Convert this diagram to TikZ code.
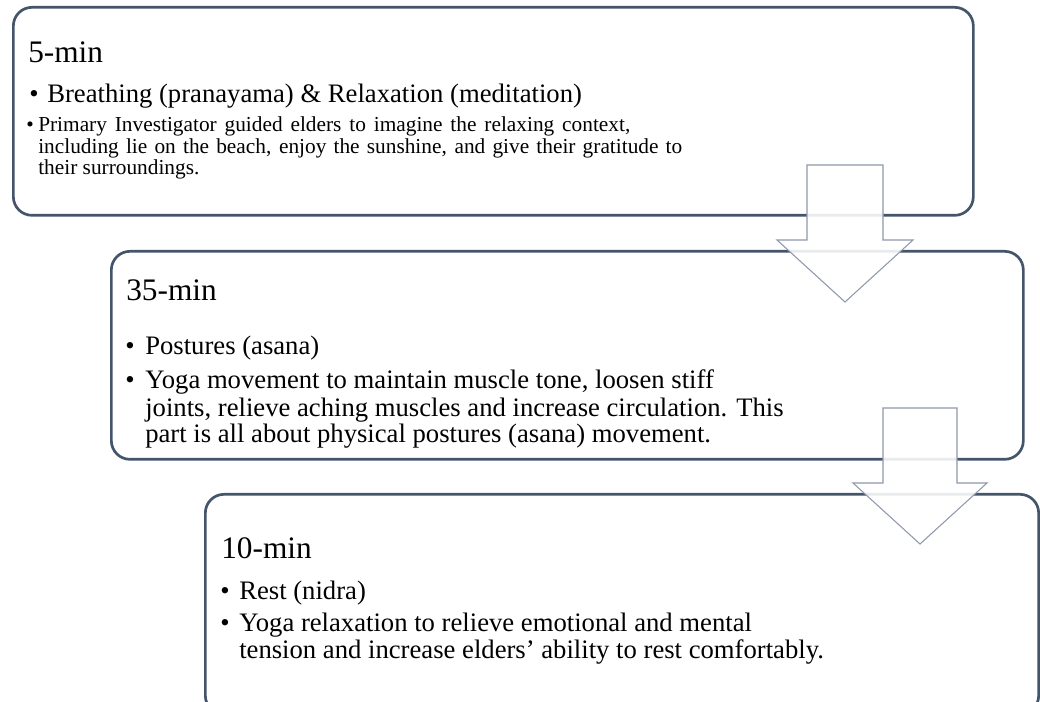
\documentclass[tikz,border=0pt]{standalone}
\usepackage{fontspec}
\setmainfont{Liberation Serif}
\usetikzlibrary{positioning}
\definecolor{panelline}{HTML}{44546A}
\definecolor{arrowline}{HTML}{8E99AB}
\tikzset{
  panel/.style={draw=panelline,line width=2pt,rounded corners=14pt,fill=white,anchor=north west,inner sep=0pt},
  downarrow/.style={draw=arrowline,line width=.8pt,fill=white,fill opacity=.88},
  heading/.style={anchor=base west,inner sep=0pt,font=\fontsize{23.5}{26}\selectfont},
  dot/.style={anchor=base west,inner sep=0pt},
  item/.style={anchor=base west,inner sep=0pt,align=left}
}
\begin{document}
\begin{tikzpicture}[x=0.75pt,y=-0.75pt]
\clip (0,0) rectangle (1040,702);
% the three boxes
\node[panel,minimum width=720pt,minimum height=156pt] (box1) at (12,6) {};
\node[panel,minimum width=684pt,minimum height=156pt] (box2) at (110,250) {};
\node[panel,minimum width=625pt,minimum height=165pt] (box3) at (204,493) {};
% box 1
\node[heading] (t1) at (28,63) {5-min};
\node[dot,font=\fontsize{20}{21}\selectfont] (d11) at (29,103) {\textbullet};
\node[item,font=\fontsize{20}{21}\selectfont] (i11) at (47,103) {Breathing (pranayama) \& Relaxation (meditation)};
\node[dot,font=\fontsize{16}{16.25}\selectfont] (d12) at (26,132) {\textbullet};
\node[item,font=\fontsize{16}{16.25}\selectfont] (i12) at (38,175)
  {\makebox[444pt][s]{Primary Investigator guided elders to imagine the relaxing context,}\\
   \makebox[483pt][s]{including lie on the beach, enjoy the sunshine, and give their gratitude to}\\
   their surroundings.};
% box 2
\node[heading] (t2) at (126,301) {35-min};
\node[dot,font=\fontsize{20}{20.25}\selectfont] (d21) at (125,355) {\textbullet};
\node[item,font=\fontsize{20}{20.25}\selectfont] (i21) at (145,355) {Postures (asana)};
\node[dot,font=\fontsize{20}{20.25}\selectfont] (d22) at (125,389) {\textbullet};
\node[item,font=\fontsize{20}{20.25}\selectfont] (i22) at (145,443)
  {Yoga movement to maintain muscle tone, loosen stiff\\
   joints, relieve aching muscles and increase circulation. This\\
   part is all about physical postures (asana) movement.};
% box 3
\node[heading] (t3) at (221,558) {10-min};
\node[dot,font=\fontsize{20}{20.25}\selectfont] (d31) at (220,599) {\textbullet};
\node[item,font=\fontsize{20}{20.25}\selectfont] (i31) at (239,599) {Rest (nidra)};
\node[dot,font=\fontsize{20}{20.25}\selectfont] (d32) at (220,631) {\textbullet};
\node[item,font=\fontsize{20}{20.25}\selectfont] (i32) at (239,658)
  {Yoga relaxation to relieve emotional and mental\\
   tension and increase elders' ability to rest comfortably.};
% block arrows
\coordinate (a1) at (845,165);
\coordinate (a2) at (920,408);
\draw[downarrow] (a1) ++(-38,0) -- ++(0,75) -- ++(-30,0) -- ++(68,62) -- ++(68,-62) -- ++(-30,0) -- ++(0,-75) -- cycle;
\draw[downarrow] (a2) ++(-37,0) -- ++(0,75) -- ++(-30,0) -- ++(67,61) -- ++(67,-61) -- ++(-30,0) -- ++(0,-75) -- cycle;
\end{tikzpicture}
\end{document}
